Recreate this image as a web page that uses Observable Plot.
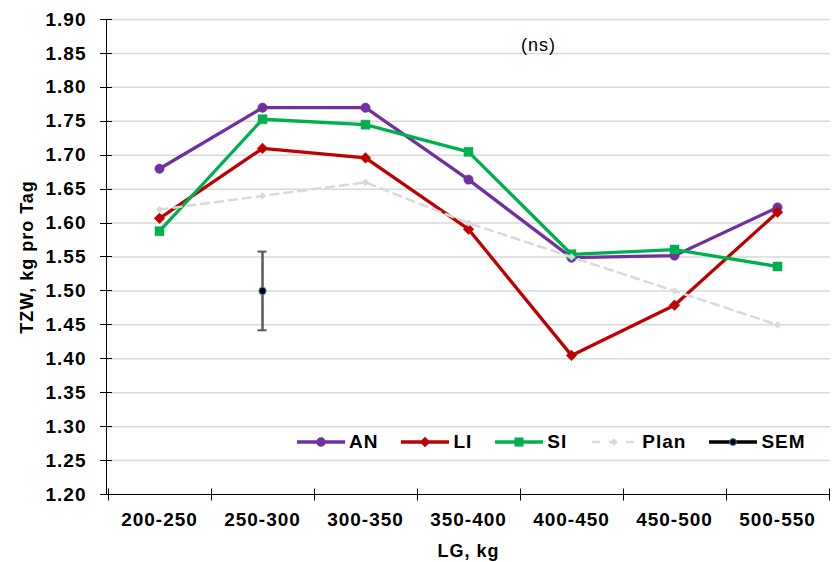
<!DOCTYPE html>
<html>
<head>
<meta charset="utf-8">
<script src="https://cdn.jsdelivr.net/npm/d3@7"></script>
<script src="https://cdn.jsdelivr.net/npm/@observablehq/plot@0.6"></script>
<style>
  html, body { margin: 0; padding: 0; background: #fff; }
  #chart { position: relative; width: 838px; height: 562px; font-family: "Liberation Sans", Arial, sans-serif; }
  #legend { position: absolute; left: 297px; top: 431px; height: 22px; display: flex; align-items: center;
            font-weight: bold; font-size: 19px; letter-spacing: 1px; color: #000; }
  #legend .item { display: flex; align-items: center; margin-right: 23px; }
  #legend svg { display: block; margin-right: 4px; }
</style>
</head>
<body>
<div id="chart"></div>
<script>
// ---- data ----
const categories = ["200-250", "250-300", "300-350", "350-400", "400-450", "450-500", "500-550"];
const AN   = [1.680, 1.770, 1.770, 1.664, 1.549, 1.552, 1.623];
const LI   = [1.607, 1.710, 1.696, 1.591, 1.405, 1.479, 1.616];
const SI   = [1.588, 1.753, 1.745, 1.705, 1.554, 1.561, 1.536];
const Plan = [1.62, 1.64, 1.66, 1.60, 1.55, 1.50, 1.45];
const semCategory = "250-300";
const semValue = 1.50;
const semError = 0.058;
const yTicks = [1.20, 1.25, 1.30, 1.35, 1.40, 1.45, 1.50, 1.55, 1.60, 1.65, 1.70, 1.75, 1.80, 1.85, 1.90];
const seriesNames = ["AN", "LI", "SI", "Plan", "SEM"];
const annotation = "(ns)";

// ---- styles ----
const colors = {AN: "#7030a0", LI: "#c00000", SI: "#00b050", Plan: "#d9d9d9", SEM: "#000000"};
const symbols = {AN: "circle", LI: "diamond2", SI: "square", Plan: "diamond2"};
const radii = {AN: 4.7, LI: 4.8, SI: 5.1, Plan: 3.3};

const table = (name, vals) => categories.map((c, i) => ({series: name, cat: c, value: vals[i]}));
const dataAN = table("AN", AN), dataLI = table("LI", LI), dataSI = table("SI", SI), dataPlan = table("Plan", Plan);
const semData = [{cat: semCategory, value: semValue, lo: semValue - semError, hi: semValue + semError}];

// axis lines and crossing ticks for both axes, positioned through the scales
function axisTicks(index, scales, values, dims) {
  const x = scales.x, y = scales.y;
  const g = d3.create("svg:g").attr("stroke", "#000").attr("stroke-width", 1);
  const x0 = dims.marginLeft, x1 = dims.width - dims.marginRight;
  const yb = Math.round(y(yTicks[0])) + 0.5, yt = Math.round(y(yTicks[yTicks.length - 1])) + 0.5;
  g.append("line").attr("x1", x0 + 0.5).attr("x2", x0 + 0.5).attr("y1", yt).attr("y2", yb);
  g.append("line").attr("x1", x0).attr("x2", x1).attr("y1", yb).attr("y2", yb);
  for (const t of yTicks) {
    const yy = Math.round(y(t)) + 0.5;
    g.append("line").attr("x1", x0 - 6).attr("x2", x0 + 6).attr("y1", yy).attr("y2", yy);
  }
  const step = x(categories[1]) - x(categories[0]);
  const bounds = categories.map(c => x(c) - step / 2).concat([x(categories[categories.length - 1]) + step / 2]);
  for (const b of bounds) {
    const xx = Math.round(b) + 0.5;
    g.append("line").attr("x1", xx).attr("x2", xx).attr("y1", yb - 6).attr("y2", yb + 6);
  }
  return g.node();
}

const lineMarks = (data, name) => [
  Plot.line(data, {x: "cat", y: "value", stroke: colors[name], strokeWidth: 3.3, strokeLinejoin: "round"}),
  Plot.dot(data, {x: "cat", y: "value", symbol: symbols[name], r: radii[name], fill: colors[name], stroke: colors[name], strokeWidth: 0.5})
];

const plot = Plot.plot({
  width: 838,
  height: 562,
  marginLeft: 106,
  marginRight: 8,
  marginTop: 19,
  marginBottom: 68,
  style: {fontFamily: "'Liberation Sans', Arial, sans-serif", fontSize: "19px", fontWeight: "bold", background: "#fff", color: "#000", letterSpacing: "1px"},
  x: {type: "point", domain: categories, padding: 0.5},
  y: {domain: [1.2, 1.9]},
  marks: [
    Plot.ruleY(yTicks.slice(1), {stroke: "#d9d9d9", strokeWidth: 1.5}),
    Plot.axisY({ticks: yTicks, tickFormat: d => d.toFixed(2), tickSize: 0, tickPadding: 20, fontSize: 19,
                label: null}),
    Plot.axisY({ticks: [], tickSize: 0, label: "TZW, kg pro Tag", labelAnchor: "center", labelArrow: false,
                labelOffset: 86, fontSize: 18, letterSpacing: "1.5px"}),
    Plot.axisX({tickSize: 0, tickPadding: 18, fontSize: 19, label: null}),
    Plot.axisX({ticks: [], tickSize: 0, label: "LG, kg", labelAnchor: "center", labelArrow: false,
                labelOffset: 62, fontSize: 18, letterSpacing: "1.5px"}),
    axisTicks,
    ...lineMarks(dataAN, "AN"),
    ...lineMarks(dataLI, "LI"),
    ...lineMarks(dataSI, "SI"),
    Plot.line(dataPlan, {x: "cat", y: "value", stroke: colors.Plan, strokeWidth: 2.5, strokeDasharray: "8,6"}),
    Plot.dot(dataPlan, {x: "cat", y: "value", symbol: symbols.Plan, r: radii.Plan, fill: colors.Plan}),
    Plot.ruleX(semData, {x: "cat", y1: "lo", y2: "hi", stroke: "#595959", strokeWidth: 2.5}),
    Plot.ruleY(semData, {x1: "cat", x2: "cat", y: "lo", insetLeft: -4.5, insetRight: -4.5, stroke: "#595959", strokeWidth: 2}),
    Plot.ruleY(semData, {x1: "cat", x2: "cat", y: "hi", insetLeft: -4.5, insetRight: -4.5, stroke: "#595959", strokeWidth: 2}),
    Plot.dot(semData, {x: "cat", y: "value", r: 3.6, fill: "#000", stroke: "#4472c4", strokeWidth: 1}),
    Plot.text([annotation], {frameAnchor: "top", dx: 70, dy: 19, fontWeight: "normal", fontSize: 18, letterSpacing: "1px"})
  ]
});
document.getElementById("chart").appendChild(plot);

// ---- legend (HTML, inside plot area) ----
const legend = document.createElement("div");
legend.id = "legend";
for (const name of seriesNames) {
  const item = document.createElement("div");
  item.className = "item";
  const W = 48, H = 16, cy = 8;
  const svg = d3.create("svg").attr("width", W).attr("height", H);
  if (name === "Plan") {
    svg.append("line").attr("x1", 2).attr("x2", W - 2).attr("y1", cy).attr("y2", cy)
      .attr("stroke", colors.Plan).attr("stroke-width", 2.5).attr("stroke-dasharray", "8,9");
    svg.append("path").attr("d", d3.symbol(d3.symbolDiamond2, Math.PI * radii.Plan * radii.Plan)())
      .attr("transform", `translate(${W / 2},${cy})`).attr("fill", colors.Plan);
  } else if (name === "SEM") {
    svg.append("line").attr("x1", 0).attr("x2", W).attr("y1", cy).attr("y2", cy)
      .attr("stroke", "#000").attr("stroke-width", 3.3);
    svg.append("circle").attr("cx", W / 2).attr("cy", cy).attr("r", 3.4)
      .attr("fill", "#000").attr("stroke", "#4472c4").attr("stroke-width", 1);
  } else {
    const sym = {circle: d3.symbolCircle, diamond2: d3.symbolDiamond2, square: d3.symbolSquare}[symbols[name]];
    svg.append("line").attr("x1", 0).attr("x2", W).attr("y1", cy).attr("y2", cy)
      .attr("stroke", colors[name]).attr("stroke-width", 3.3);
    svg.append("path").attr("d", d3.symbol(sym, Math.PI * radii[name] * radii[name])())
      .attr("transform", `translate(${W / 2},${cy})`).attr("fill", colors[name]);
  }
  item.appendChild(svg.node());
  const label = document.createElement("span");
  label.textContent = name;
  item.appendChild(label);
  legend.appendChild(item);
}
document.getElementById("chart").appendChild(legend);
</script>
</body>
</html>
